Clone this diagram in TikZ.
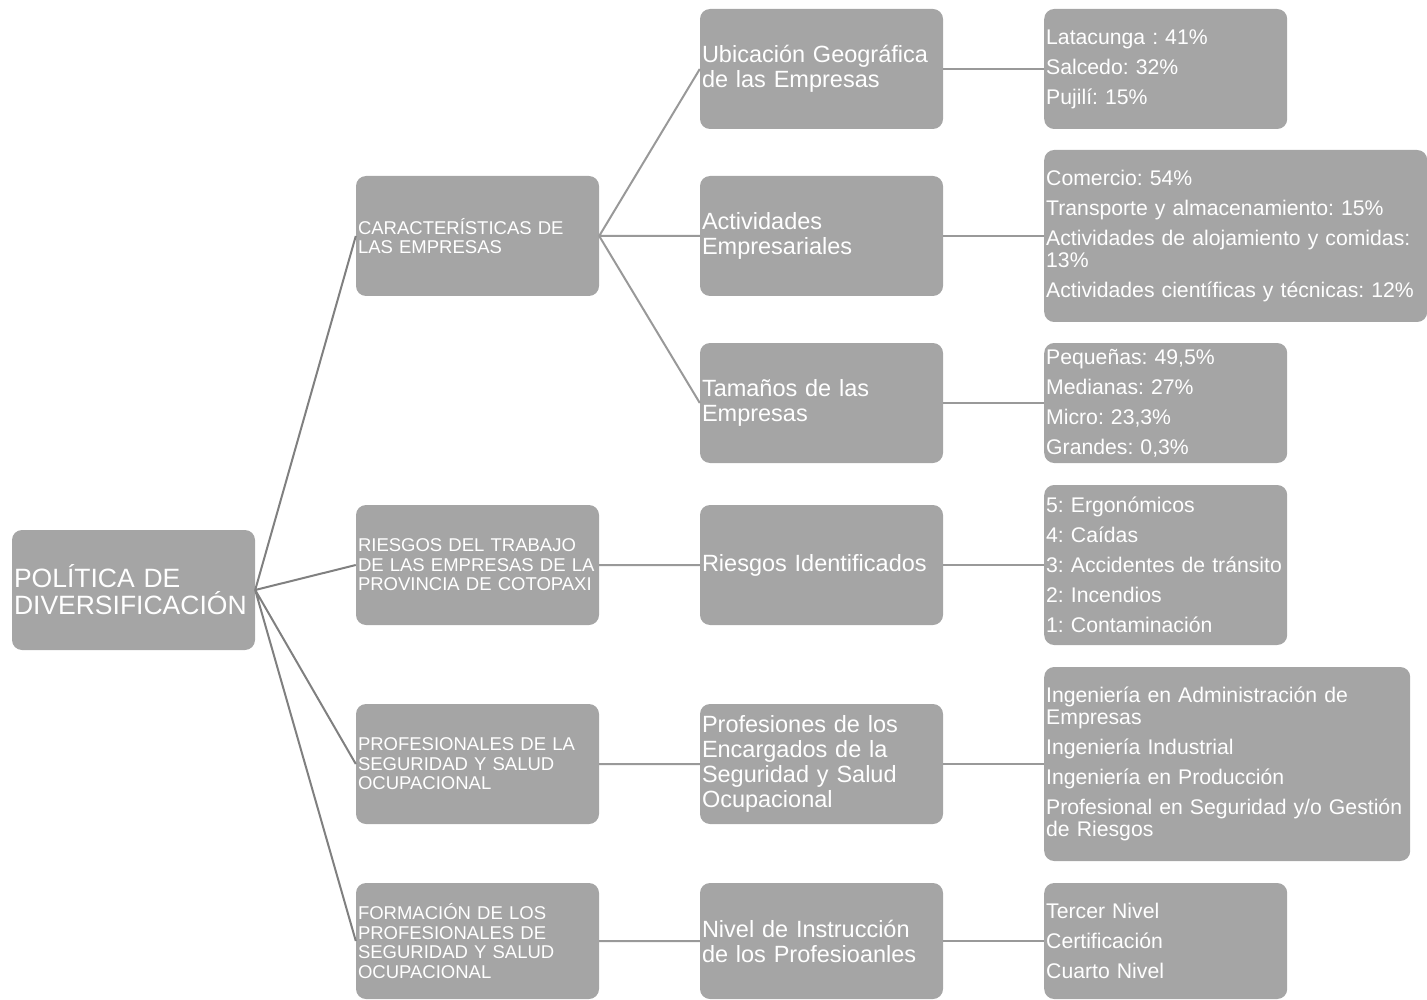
\documentclass[tikz,border=0pt]{standalone}
\usepackage{fontspec}
\setmainfont{Liberation Sans}
\usepackage{tikz}
\definecolor{boxgrey}{HTML}{A5A5A5}
\definecolor{edgegrey}{HTML}{808080}
\definecolor{edgelight}{HTML}{999999}
\frenchspacing

\begin{document}
\begin{tikzpicture}[
    x=1pt, y=-1pt,
    every node/.style = {rectangle, rounded corners=10pt, fill=boxgrey, text=white,
                         inner xsep=2pt, inner ysep=0pt, align=left},
    rootb/.style      = {minimum width=243pt, minimum height=120pt, text width=239pt,
                         font=\fontsize{26.5}{27}\selectfont},
    levela/.style     = {minimum width=243pt, minimum height=120pt, text width=239pt,
                         font=\fontsize{18.5}{19.5}\selectfont},
    levelb/.style     = {minimum width=243pt, minimum height=120pt, text width=239pt,
                         font=\fontsize{23.5}{25}\selectfont},
    levelc/.style     = {anchor=west, minimum width=243pt, text width=239pt,
                         font=\fontsize{21.2}{22}\selectfont},
    edge/.style       = {draw=edgegrey, line width=2pt},
    edgel/.style      = {draw=edgelight, line width=2pt}
    ]
      \useasboundingbox (0,0) rectangle (1427,1000);

      % vertices -------------------------------------------------
      \node[rootb] (pol) at (133.5,590) {POLÍTICA DE\\DIVERSIFICACIÓN};

      \node[levela] (car) at (477.5,236) {CARACTERÍSTICAS DE\\LAS EMPRESAS};
      \node[levela] (rie) at (477.5,565) {RIESGOS DEL TRABAJO\\DE LAS EMPRESAS DE LA\\PROVINCIA DE COTOPAXI};
      \node[levela] (pro) at (477.5,764) {PROFESIONALES DE LA\\SEGURIDAD Y SALUD\\OCUPACIONAL};
      \node[levela, minimum height=116pt] (for) at (477.5,941) {FORMACIÓN DE LOS\\PROFESIONALES DE\\SEGURIDAD Y SALUD\\OCUPACIONAL};

      \node[levelb] (ubi) at (821.5,69)  {Ubicación Geográfica\\de las Empresas};
      \node[levelb] (act) at (821.5,236) {Actividades\\Empresariales};
      \node[levelb] (tam) at (821.5,403) {Tamaños de las\\Empresas};
      \node[levelb] (rid) at (821.5,565) {Riesgos Identificados};
      \node[levelb] (enc) at (821.5,764) {Profesiones de los\\Encargados de la\\Seguridad y Salud\\Ocupacional};
      \node[levelb, minimum height=116pt] (niv) at (821.5,941) {Nivel de Instrucción\\de los Profesioanles};

      \node[levelc, minimum height=120pt] (ciu) at (1044,69)
            {Latacunga : 41\%\\[8pt]Salcedo: 32\%\\[8pt]Pujilí: 15\%};
      \node[levelc, minimum width=383pt, text width=379pt, minimum height=172pt] (sec) at (1044,236)
            {Comercio: 54\%\\[8pt]Transporte y almacenamiento: 15\%\\[8pt]Actividades de alojamiento y comidas:\\13\%\\[8pt]Actividades científicas y técnicas: 12\%};
      \node[levelc, minimum height=120pt] (tmn) at (1044,403)
            {Pequeñas: 49,5\%\\[8pt]Medianas: 27\%\\[8pt]Micro: 23,3\%\\[8pt]Grandes: 0,3\%};
      \node[levelc, minimum height=160pt] (lst) at (1044,565)
            {5: Ergonómicos\\[8pt]4: Caídas\\[8pt]3: Accidentes de tránsito\\[8pt]2: Incendios\\[8pt]1: Contaminación};
      \node[levelc, minimum width=366pt, text width=362pt, minimum height=194pt] (car2) at (1044,764)
            {Ingeniería en Administración de\\Empresas\\[8pt]Ingeniería Industrial\\[8pt]Ingeniería en Producción\\[8pt]Profesional en Seguridad y/o Gestión\\de Riesgos};
      \node[levelc, minimum height=116pt] (gra) at (1044,941)
            {Tercer Nivel\\[8pt]Certificación\\[8pt]Cuarto Nivel};

      % edges ----------------------------------------------------
      \draw[edge] (pol.east) -- (car.west)
                  (pol.east) -- (rie.west)
                  (pol.east) -- (pro.west)
                  (pol.east) -- (for.west);
      \draw[edgel] (car.east) -- (ubi.west)
                   (car.east) -- (act.west)
                   (car.east) -- (tam.west)
                   (rie.east) -- (rid.west)
                   (pro.east) -- (enc.west)
                   (for.east) -- (niv.west);
      \draw[edgel] (ubi.east) -- (ciu.west)
                   (act.east) -- (sec.west)
                   (tam.east) -- (tmn.west)
                   (rid.east) -- (lst.west)
                   (enc.east) -- (car2.west)
                   (niv.east) -- (gra.west);
\end{tikzpicture}
\end{document}
